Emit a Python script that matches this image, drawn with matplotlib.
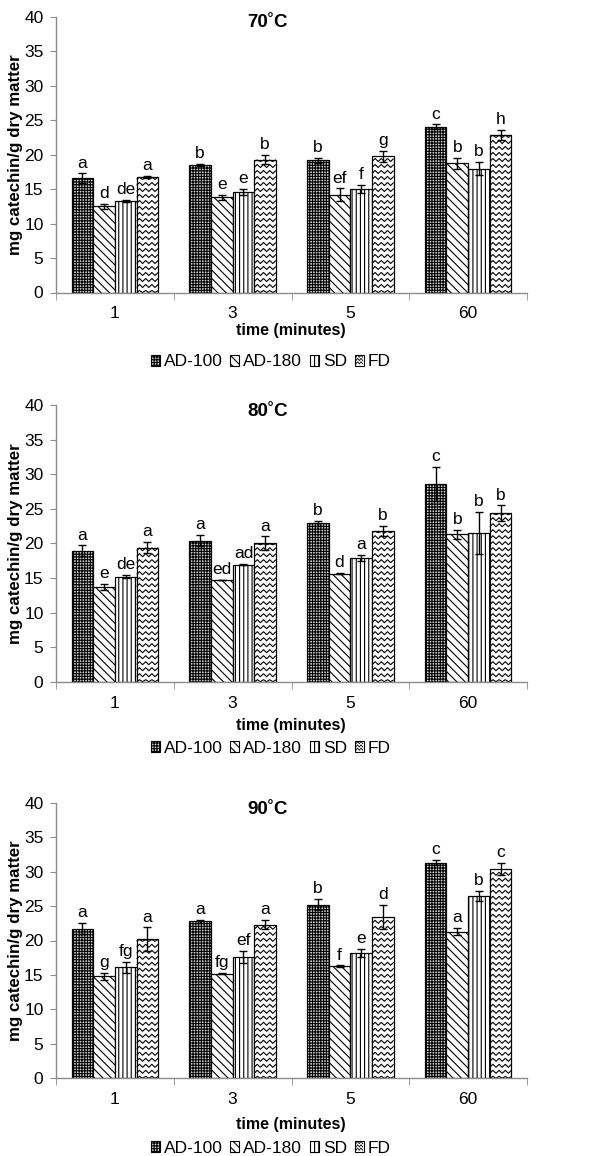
import numpy as np
import matplotlib
matplotlib.use("Agg")
import matplotlib.pyplot as plt
from matplotlib.patches import Patch, Rectangle
from matplotlib.lines import Line2D
from matplotlib.transforms import IdentityTransform
from matplotlib.legend_handler import HandlerPatch

plt.rcParams['font.family'] = ['Liberation Sans', 'DejaVu Sans']
plt.rcParams['hatch.linewidth'] = 0.8

# ---- data -------------------------------------------------------------
times = ['1', '3', '5', '60']
methods = ['AD-100', 'AD-180', 'SD', 'FD']
titles = ['70˚C', '80˚C', '90˚C']

# 70 ˚C
mean_70_ad100 = [16.6, 18.5, 19.2, 24.1]
mean_70_ad180 = [12.5, 13.8, 14.2, 18.8]
mean_70_sd = [13.3, 14.6, 15.0, 18.0]
mean_70_fd = [16.8, 19.3, 19.8, 22.9]
err_70_ad100 = [0.7, 0.2, 0.4, 0.3]
err_70_ad180 = [0.4, 0.4, 0.9, 0.8]
err_70_sd = [0.15, 0.4, 0.6, 1.0]
err_70_fd = [0.15, 0.7, 0.8, 0.7]
let_70_ad100 = ['a', 'b', 'b', 'c']
let_70_ad180 = ['d', 'e', 'ef', 'b']
let_70_sd = ['de', 'e', 'f', 'b']
let_70_fd = ['a', 'b', 'g', 'h']

# 80 ˚C
mean_80_ad100 = [18.9, 20.4, 22.9, 28.6]
mean_80_ad180 = [13.7, 14.7, 15.6, 21.3]
mean_80_sd = [15.2, 16.9, 17.9, 21.5]
mean_80_fd = [19.4, 20.0, 21.8, 24.4]
err_80_ad100 = [0.8, 0.8, 0.4, 2.5]
err_80_ad180 = [0.4, 0.0, 0.1, 0.7]
err_80_sd = [0.2, 0.1, 0.4, 3.1]
err_80_fd = [0.8, 1.0, 0.7, 1.1]
let_80_ad100 = ['a', 'a', 'b', 'c']
let_80_ad180 = ['e', 'ed', 'd', 'b']
let_80_sd = ['de', 'ad', 'a', 'b']
let_80_fd = ['a', 'a', 'b', 'b']

# 90 ˚C
mean_90_ad100 = [21.7, 22.8, 25.2, 31.3]
mean_90_ad180 = [14.8, 15.2, 16.3, 21.3]
mean_90_sd = [16.1, 17.6, 18.2, 26.5]
mean_90_fd = [20.2, 22.3, 23.4, 30.4]
err_90_ad100 = [0.8, 0.2, 0.8, 0.4]
err_90_ad180 = [0.5, 0.1, 0.1, 0.5]
err_90_sd = [0.8, 0.9, 0.6, 0.7]
err_90_fd = [1.7, 0.7, 1.8, 0.9]
let_90_ad100 = ['a', 'a', 'b', 'c']
let_90_ad180 = ['g', 'fg', 'f', 'a']
let_90_sd = ['fg', 'ef', 'e', 'b']
let_90_fd = ['a', 'a', 'd', 'c']

panels = [
    ([mean_70_ad100, mean_70_ad180, mean_70_sd, mean_70_fd],
     [err_70_ad100, err_70_ad180, err_70_sd, err_70_fd],
     [let_70_ad100, let_70_ad180, let_70_sd, let_70_fd]),
    ([mean_80_ad100, mean_80_ad180, mean_80_sd, mean_80_fd],
     [err_80_ad100, err_80_ad180, err_80_sd, err_80_fd],
     [let_80_ad100, let_80_ad180, let_80_sd, let_80_fd]),
    ([mean_90_ad100, mean_90_ad180, mean_90_sd, mean_90_fd],
     [err_90_ad100, err_90_ad180, err_90_sd, err_90_fd],
     [let_90_ad100, let_90_ad180, let_90_sd, let_90_fd]),
]

# ---- styling ----------------------------------------------------------
FS = 12
GREY = '#8c8c8c'
bar_styles = [
    dict(facecolor='#cfcfcf', hatch='++++++'),
    dict(facecolor='white', hatch='\\\\\\\\'),
    dict(facecolor='white', hatch='||||'),
    dict(facecolor='white', hatch=None),   # wavy fill added separately
]

W, H = 600, 1156
fig = plt.figure(figsize=(W / 100, H / 100), dpi=100)

# axes frames in pixels: (left, top, right, bottom)
frames = [(56, 17, 527, 292.5), (56, 405, 527, 681.7), (56, 802.7, 527, 1078.3)]
title_y = [0.980, 0.976, 0.977]
xlabel_y = [-0.137, -0.160, -0.167]
legend_y = [-0.251, -0.240, -0.253]


def wavy_fill(ax, bar, period=6.2, amp=3.0, spacing=6.0):
    """Zig-zag fill drawn in pixel space and trimmed to the bar outline."""
    bb = bar.get_window_extent()
    x0, x1, y0, y1 = bb.x0 + 0.5, bb.x1 - 0.5, bb.y0, bb.y1 - 0.5
    if y1 - y0 < 2:
        return
    half = period / 2
    ks = np.arange(np.ceil(x0 / half), np.floor(x1 / half) + 1)
    xs = np.concatenate([[x0], ks * half, [x1]])
    u = xs / period
    tri = 2 * np.abs(u - np.floor(u + 0.5))
    for yb in np.arange(y0 + 2 - amp, y1, spacing):
        ys = yb + amp * tri
        if ys.max() < y0:
            continue
        ln = Line2D(xs, np.clip(ys, y0, y1), transform=IdentityTransform(),
                    color='black', lw=0.8, zorder=1.5, clip_on=False)
        ax.add_artist(ln)


class HandlerWavy(HandlerPatch):
    def create_artists(self, legend, orig_handle, xdescent, ydescent,
                       width, height, fontsize, trans):
        x0, y0 = -xdescent, -ydescent
        rect = Rectangle((x0, y0), width, height, facecolor='white',
                         edgecolor='black', lw=0.8, transform=trans)
        arts = [rect]
        xs = np.linspace(x0 + 0.8, x0 + width - 0.8, 5)
        for k in range(3):
            yb = y0 + height * (0.15 + 0.3 * k)
            ys = yb + np.where(np.arange(5) % 2 == 0, 0, height * 0.2)
            arts.append(Line2D(xs, ys, color='black', lw=0.6, transform=trans))
        return arts


x = np.arange(len(times))
bw = 0.184
offsets = (np.arange(4) - 1.5) * bw

for p, (means, errs, lets) in enumerate(panels):
    l, t, r, b = frames[p]
    ax = fig.add_axes([l / W, 1 - b / H, (r - l) / W, (b - t) / H])
    ax.set_xlim(-0.5, 3.5)
    ax.set_ylim(0, 40)

    for m in range(4):
        bars = ax.bar(x + offsets[m], means[m], bw, edgecolor='black',
                      linewidth=0.9, zorder=1, **bar_styles[m])
        ax.errorbar(x + offsets[m], means[m], yerr=errs[m], fmt='none',
                    ecolor='black', elinewidth=1.0, capsize=2.6,
                    capthick=1.0, zorder=3)
        if m == 3:
            for bar in bars:
                wavy_fill(ax, bar)
        for i in range(4):
            ax.annotate(lets[m][i], (x[i] + offsets[m], means[m][i] + errs[m][i]),
                        xytext=(0, 2), textcoords='offset points',
                        ha='center', va='bottom', fontsize=FS + 0.5, color='black')

    # axes cosmetics
    for s in ('top', 'right'):
        ax.spines[s].set_visible(False)
    for s in ('left', 'bottom'):
        ax.spines[s].set_color(GREY)
        ax.spines[s].set_linewidth(1.0)
    ax.set_yticks(np.arange(0, 41, 5))
    ax.tick_params(axis='y', length=4, color=GREY, pad=5, labelsize=FS + 0.5)
    ax.set_xticks(x)
    ax.set_xticklabels(times)
    ax.set_xticks(np.arange(-0.5, 4.0, 1.0), minor=True)
    ax.tick_params(axis='x', which='major', length=0, pad=10, labelsize=FS + 0.5)
    ax.tick_params(axis='x', which='minor', length=5, color=GREY)

    ax.text(0.45, title_y[p], titles[p], transform=ax.transAxes,
            ha='center', va='center', fontsize=13.5, fontweight='bold')
    ax.text(0.498, xlabel_y[p], 'time (minutes)', transform=ax.transAxes,
            ha='center', va='center', fontsize=11.5, fontweight='bold')
    ax.text(-0.086, 0.5, 'mg catechin/g dry matter', transform=ax.transAxes,
            rotation=90, ha='center', va='center', fontsize=12.2,
            fontweight='bold')

    handles = [Patch(edgecolor='black', lw=0.8, **bar_styles[m]) for m in range(4)]
    ax.legend(handles, methods, loc='center', bbox_to_anchor=(0.456, legend_y[p]),
              ncol=4, frameon=False, fontsize=FS + 0.5, handlelength=0.52,
              handleheight=0.6, handletextpad=0.22, columnspacing=0.45,
              borderaxespad=0, borderpad=0,
              handler_map={handles[3]: HandlerWavy()})

fig.savefig('out.png', dpi=100)
